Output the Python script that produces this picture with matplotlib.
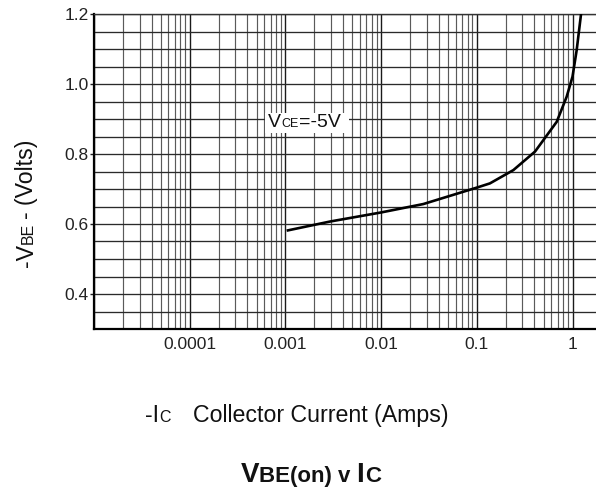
import matplotlib
matplotlib.use('Agg')
import matplotlib.pyplot as plt
from matplotlib.ticker import FixedLocator, NullFormatter, FixedFormatter
from matplotlib.transforms import IdentityTransform
from matplotlib.patches import Rectangle
import numpy as np

# ---- data ----
ic_amps = [0.00103, 0.00292, 0.01, 0.0276, 0.1, 0.137, 0.241, 0.406, 0.684, 0.87, 1.0, 1.106, 1.228]
vbe_volts = [0.581, 0.607, 0.633, 0.657, 0.704, 0.716, 0.754, 0.807, 0.892, 0.964, 1.021, 1.097, 1.2]
x_major = [1e-5, 1e-4, 1e-3, 1e-2, 1e-1, 1.0]
x_tick_labels = ['', '0.0001', '0.001', '0.01', '0.1', '1']
x_minor = [k * 10.0 ** e for e in range(-5, 0) for k in range(2, 10)]
y_major = [0.4, 0.6, 0.8, 1.0, 1.2]
y_tick_labels = ['0.4', '0.6', '0.8', '1.0', '1.2']
y_minor = [round(0.3 + 0.05 * i, 2) for i in range(19)]

plt.rcParams['font.family'] = ['Liberation Sans', 'DejaVu Sans']

W, H = 596, 487
fig = plt.figure(figsize=(W / 100, H / 100), dpi=100)
ax = fig.add_axes([94 / W, 1 - 329 / H, 1 - 94 / W, (329 - 14) / H])
ax.set_xscale('log')
ax.set_xlim(1e-5, 1.76)
ax.set_ylim(0.3, 1.2)

ax.xaxis.set_major_locator(FixedLocator(x_major))
ax.xaxis.set_minor_locator(FixedLocator(x_minor))
ax.xaxis.set_major_formatter(FixedFormatter(x_tick_labels))
ax.xaxis.set_minor_formatter(NullFormatter())
ax.yaxis.set_major_locator(FixedLocator(y_major))
ax.yaxis.set_major_formatter(FixedFormatter(y_tick_labels))
ax.yaxis.set_minor_locator(FixedLocator(y_minor))
ax.yaxis.set_minor_formatter(NullFormatter())

ax.grid(which='major', axis='x', color='#1a1a1a', lw=1.0)
ax.grid(which='minor', axis='x', color='#5a5a5a', lw=0.85)
ax.grid(which='both', axis='y', color='#2a2a2a', lw=0.95)
ax.set_axisbelow(True)

ax.tick_params(axis='x', which='both', length=0, pad=6, labelsize=12.5, labelcolor='#222222')
ax.tick_params(axis='y', which='major', length=3, width=1, pad=1, labelsize=12.5,
               labelcolor='#222222', direction='out', color='#222222')
ax.tick_params(axis='y', which='minor', length=0)

ax.spines['right'].set_visible(False)
ax.spines['left'].set_linewidth(1.6)
ax.spines['bottom'].set_linewidth(1.6)
ax.spines['top'].set_linewidth(1.0)
ax.spines['top'].set_color('#333333')

ax.plot(ic_amps, vbe_volts, color='black', lw=1.9, zorder=3, solid_capstyle='butt')

fig.canvas.draw()
renderer = fig.canvas.get_renderer()


def place(parts, x, y, rotation=0, color='#111111'):
    """parts: (text, size, weight, gap_before_px); x, y in display px (origin bottom-left)."""
    pos = 0.0
    for s, size, weight, gap in parts:
        pos += gap
        if rotation == 0:
            px, py = x + pos, y
        else:
            px, py = x, y + pos
        t = fig.text(px, py, s, transform=IdentityTransform(), fontsize=size,
                     fontweight=weight, ha='left', va='baseline', rotation=rotation,
                     rotation_mode='anchor', color=color, zorder=4)
        bb = t.get_window_extent(renderer)
        pos += bb.width if rotation == 0 else bb.height
    return pos


L, S = 16.7, 11.5
# x label
place([('-I', L, 'normal', 0), ('C', S, 'normal', 0.5)], 145, H - 421.7)
place([('Collector Current (Amps)', L, 'normal', 0)], 193, H - 421.7)
# y label (rotated)
place([('-V', L, 'normal', 0), ('BE', S, 'normal', 0.5), ('- (Volts)', L, 'normal', 3.5)],
      33, H - 267, rotation=90)
# title
TB, TS = 20, 16
place([('V', TB, 'bold', 0), ('BE(on) v', TS, 'bold', 0), ('I', TB, 'bold', 6), ('C', TS, 'bold', 0.5)],
      240.7, H - 482)

# VCE annotation with white box
bx, by = ax.transData.transform((6.58e-4, 0.876))
end = place([('V', 14, 'normal', 0), ('CE', 9, 'normal', 0), ('=-5V', 14, 'normal', 0.8)], bx, by)
fig.add_artist(Rectangle((bx - 3, by - 6), end + 11, 20.6, transform=IdentityTransform(),
                         facecolor='white', edgecolor='none', zorder=2))

fig.savefig('out.png', dpi=100)
